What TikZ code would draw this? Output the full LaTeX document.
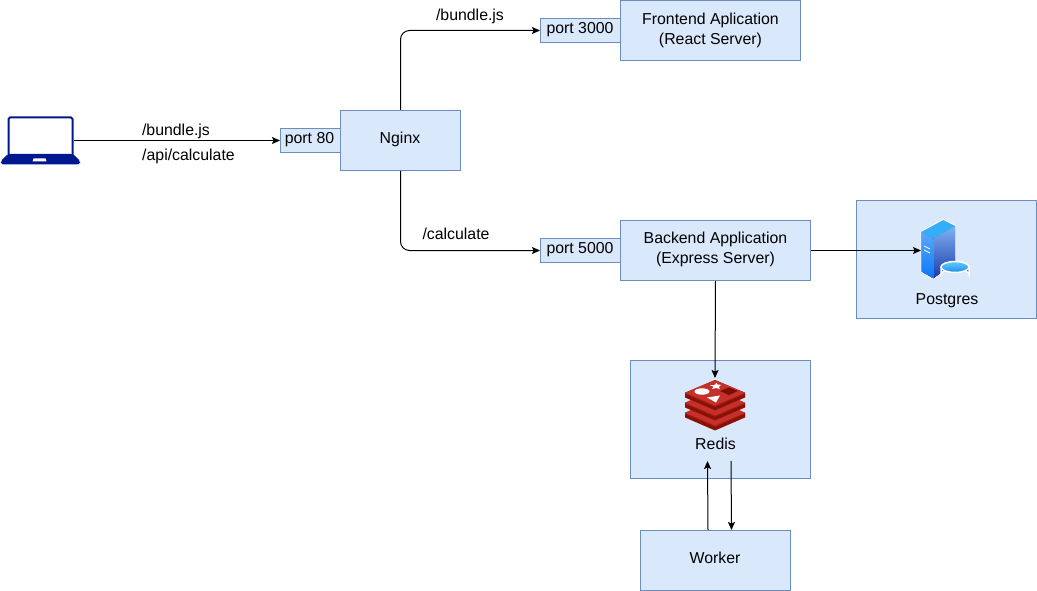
\documentclass[tikz,border=0pt]{standalone}
\usepackage{fontspec}
\setmainfont{Liberation Sans}
\usetikzlibrary{arrows.meta}
\definecolor{boxfill}{HTML}{DAE8FC}
\definecolor{boxline}{HTML}{6C8EBF}
\definecolor{lapblue}{HTML}{00188F}
\definecolor{redisA}{HTML}{C6302B}
\definecolor{redisB}{HTML}{A41E11}
\definecolor{redisC}{HTML}{7A0C00}
\definecolor{srvA}{HTML}{7FB2F5}
\definecolor{srvB}{HTML}{1A3CA8}
\definecolor{srvC}{HTML}{5CA8FA}
\definecolor{srvD}{HTML}{0A78FA}
\definecolor{srvE}{HTML}{35AEF8}
\definecolor{srvF}{HTML}{63CCFF}
\definecolor{srvG}{HTML}{1E8AE8}
\definecolor{srvH}{HTML}{2C40A6}
\tikzset{
  boxnode/.style={draw=boxline,fill=boxfill,line width=1pt,minimum width=#1,inner sep=0pt,align=center,anchor=north west,text=black,text depth=5pt},
  txt/.style={inner sep=0pt,text=black,align=center},
  conn/.style={draw=black,line width=1pt,-{Stealth[length=8pt,width=7pt,inset=1.5pt]},rounded corners=9pt},
}
\begin{document}
\begin{tikzpicture}[x=1pt,y=-1pt,font=\fontsize{15.85}{20}\selectfont]
\useasboundingbox (0,0) rectangle (1037,591);
\node[boxnode=60pt,minimum height=24pt,inner xsep=0pt] (p80) at (280,128) {\hspace{-2pt}port 80};
\node[boxnode=120pt,minimum height=60pt] (nginx) at (340,110) {\hspace{-1pt}Nginx};
\node[boxnode=80pt,minimum height=24pt] (p3000) at (540,18) {\hspace{-1pt}port 3000};
\node[boxnode=180pt,minimum height=60pt] (front) at (620,0.5) {Frontend Aplication\\(React Server)};
\node[boxnode=80pt,minimum height=24pt] (p5000) at (540,238) {\hspace{-1pt}port 5000};
\node[boxnode=190pt,minimum height=60pt] (back) at (620,220) {Backend Application\\(Express Server)};
\node[boxnode=180pt,minimum height=118pt] (pg) at (855.5,200) {};
\node[boxnode=180pt,minimum height=118pt] (redis) at (630,360) {};
\node[boxnode=150pt,minimum height=60pt] (worker) at (640,530) {\hspace{-1pt}Worker};
\node[txt] (pgl) at (947,300.8) {Postgres};
\node[txt] (rl) at (715.5,444) {Redis};
\node[txt] (l1) at (176,131) {/bundle.js};
\node[txt] (l2) at (188.5,156) {/api/calculate};
\node[txt] (l3) at (470,16) {/bundle.js};
\node[txt] (l4) at (456,234) {/calculate};
% laptop
\draw[lapblue,line width=2pt,fill=white,rounded corners=1.5pt] (8.5,155) -- (8.5,117.5) -- (72.5,117.5) -- (72.5,155);
\fill[lapblue,rounded corners=2pt] (8,154) -- (73,154) -- (80.5,161.5) -- (80,164.5) -- (1,164.5) -- (0.5,161.5) -- cycle;
\fill[white] (32.5,161.5) -- (33.5,158.5) -- (45.5,158.5) -- (46.5,161.5) -- cycle;
\coordinate (lap) at (73.5,140.5);
% redis
\foreach \d in {20,10,0}{
  \fill[redisB] (685,392.7+\d) -- (715,380+\d) -- (745,392.7+\d) -- (745,397.5+\d) -- (715,410.5+\d) -- (685,397.5+\d) -- cycle;
  \fill[redisC!70!redisB] (685,397+\d) -- (715,410+\d) -- (745,397+\d) -- (745,394+\d) -- (715,407+\d) -- (685,394+\d) -- cycle;
  \fill[redisA] (685,392.7+\d) -- (715,380+\d) -- (745,392.7+\d) -- (715,405.5+\d) -- cycle;
}
\fill[white] (702,391.5) ellipse [x radius=7.5,y radius=3.2];
\fill[white] (714.5,385) -- (716.5,382.8) -- (717.5,384.6) -- (721,384.8) -- (718.8,387) -- (720,389) -- (716,388) -- (712,389) -- (713.5,386.8) -- (710,385.2) -- cycle;
\fill[white] (707,397.5) -- (720,395.5) -- (716,402.5) -- cycle;
\fill[redisC] (720,391) -- (729,387.5) -- (738,391) -- (729,395) -- cycle;
% server
\draw[white,line width=2pt,line join=round,fill=white] (921.7,231.7) -- (943.3,220) -- (955,226) -- (955,263) -- (933.3,278.3) -- (921.7,271.7) -- cycle;
\fill[top color=srvA,bottom color=srvB] (933.3,238.3) -- (955,226) -- (955,263) -- (933.3,278.3) -- cycle;
\fill[top color=srvC,bottom color=srvD] (921.7,231.7) -- (933.3,238.3) -- (933.3,278.3) -- (921.7,271.7) -- cycle;
\fill[srvE] (921.7,231.7) -- (943.3,220) -- (955,226) -- (933.3,238.3) -- cycle;
\draw[white,line width=0.8pt] (924,246) -- (930,249) (924,250) -- (930,253);
\draw[white,line width=1.5pt,fill=srvH] (941,267) -- (941,274.5) arc[start angle=180,end angle=360,x radius=14,y radius=5.5] -- (969,267) -- cycle;
\draw[white,line width=1.5pt,top color=srvF,bottom color=srvG] (955,267) ellipse [x radius=14,y radius=5.5];
% connector ends
\coordinate (srv) at (921,250.5);
\coordinate (rin) at (715,378);
\coordinate (rup) at (707.5,461);
\coordinate (rdn) at (731,461);
% connectors
\draw[conn] (lap) -- (p80.west);
\draw[conn] (nginx.north) |- (p3000.west);
\draw[conn] (nginx.south) |- (p5000.west);
\draw[conn] (back.east) -- (srv);
\draw[conn] (back.south) -- (rin);
\draw[conn] ([xshift=-7.5pt]worker.north) -- (rup);
\draw[conn] (rdn) -- ([xshift=16pt]worker.north);
\end{tikzpicture}
\end{document}
